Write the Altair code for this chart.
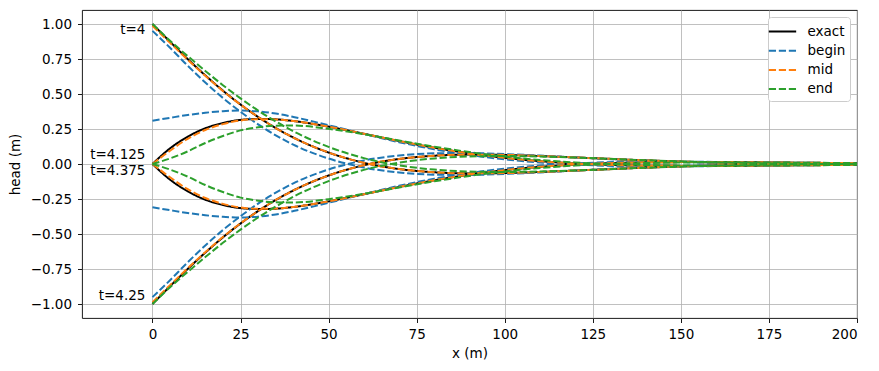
import altair as alt
import pandas as pd

# ---- data ----
x_m = [0, 5, 10, 15, 20, 25, 30, 35, 40, 50, 60, 70, 80, 90, 100, 110, 120, 140, 160, 180, 200]

times = ["4", "4.125", "4.25", "4.375"]
methods = ["exact", "begin", "mid", "end"]

exact_t4000 = [1.000, 0.873, 0.750, 0.633, 0.524, 0.425, 0.336, 0.257, 0.189, 0.082, 0.009, -0.036, -0.059, -0.067, -0.065, -0.057, -0.047, -0.026, -0.010, -0.001, 0.002]
exact_t4125 = [0.000, 0.112, 0.195, 0.255, 0.293, 0.315, 0.322, 0.319, 0.307, 0.267, 0.216, 0.164, 0.116, 0.076, 0.044, 0.020, 0.004, -0.012, -0.014, -0.010, -0.006]
exact_t4250 = [-1.000, -0.873, -0.750, -0.633, -0.524, -0.425, -0.336, -0.257, -0.189, -0.082, -0.009, 0.036, 0.059, 0.067, 0.065, 0.057, 0.047, 0.026, 0.010, 0.001, -0.002]
exact_t4375 = [0.000, -0.112, -0.195, -0.255, -0.293, -0.315, -0.322, -0.319, -0.307, -0.267, -0.216, -0.164, -0.116, -0.076, -0.044, -0.020, -0.004, 0.012, 0.014, 0.010, 0.006]

begin_t4000 = [0.951, 0.830, 0.702, 0.582, 0.472, 0.373, 0.283, 0.205, 0.138, 0.039, -0.025, -0.061, -0.076, -0.078, -0.071, -0.060, -0.047, -0.023, -0.008, 0.000, 0.003]
begin_t4125 = [0.309, 0.330, 0.350, 0.366, 0.377, 0.382, 0.376, 0.360, 0.336, 0.277, 0.215, 0.156, 0.105, 0.064, 0.033, 0.011, -0.004, -0.016, -0.015, -0.010, -0.005]
begin_t4250 = [-0.951, -0.830, -0.702, -0.582, -0.472, -0.373, -0.283, -0.205, -0.138, -0.039, 0.025, 0.061, 0.076, 0.078, 0.071, 0.060, 0.047, 0.023, 0.008, 0.000, -0.003]
begin_t4375 = [-0.309, -0.330, -0.350, -0.366, -0.377, -0.382, -0.376, -0.360, -0.336, -0.277, -0.215, -0.156, -0.105, -0.064, -0.033, -0.011, 0.004, 0.016, 0.015, 0.010, 0.005]

mid_t4000 = [0.988, 0.865, 0.745, 0.630, 0.522, 0.424, 0.336, 0.257, 0.189, 0.082, 0.009, -0.036, -0.059, -0.067, -0.065, -0.057, -0.047, -0.026, -0.010, -0.001, 0.002]
mid_t4125 = [0.000, 0.095, 0.180, 0.243, 0.285, 0.311, 0.320, 0.318, 0.307, 0.267, 0.216, 0.164, 0.116, 0.076, 0.044, 0.020, 0.004, -0.012, -0.014, -0.010, -0.006]
mid_t4250 = [-0.988, -0.865, -0.745, -0.630, -0.522, -0.424, -0.336, -0.257, -0.189, -0.082, -0.009, 0.036, 0.059, 0.067, 0.065, 0.057, 0.047, 0.026, 0.010, 0.001, -0.002]
mid_t4375 = [0.000, -0.095, -0.180, -0.243, -0.285, -0.311, -0.320, -0.318, -0.307, -0.267, -0.216, -0.164, -0.116, -0.076, -0.044, -0.020, -0.004, 0.012, 0.014, 0.010, 0.006]

end_t4000 = [1.000, 0.880, 0.771, 0.665, 0.563, 0.469, 0.382, 0.304, 0.234, 0.122, 0.042, -0.010, -0.040, -0.054, -0.057, -0.053, -0.046, -0.027, -0.012, -0.003, 0.001]
end_t4125 = [0.000, 0.040, 0.090, 0.150, 0.200, 0.240, 0.262, 0.274, 0.275, 0.251, 0.213, 0.168, 0.124, 0.085, 0.053, 0.029, 0.011, -0.007, -0.012, -0.010, -0.006]
end_t4250 = [-1.000, -0.880, -0.771, -0.665, -0.563, -0.469, -0.382, -0.304, -0.234, -0.122, -0.042, 0.010, 0.040, 0.054, 0.057, 0.053, 0.046, 0.027, 0.012, 0.003, -0.001]
end_t4375 = [0.000, -0.040, -0.090, -0.150, -0.200, -0.240, -0.262, -0.274, -0.275, -0.251, -0.213, -0.168, -0.124, -0.085, -0.053, -0.029, -0.011, 0.007, 0.012, 0.010, 0.006]

series = {
    "exact": [exact_t4000, exact_t4125, exact_t4250, exact_t4375],
    "begin": [begin_t4000, begin_t4125, begin_t4250, begin_t4375],
    "mid": [mid_t4000, mid_t4125, mid_t4250, mid_t4375],
    "end": [end_t4000, end_t4125, end_t4250, end_t4375],
}

label_texts = ["t=4", "t=4.125", "t=4.25", "t=4.375"]
label_x = [-2, -2, -2, -2]
label_y = [0.957, 0.064, -0.946, -0.05]

x_ticks = [0, 25, 50, 75, 100, 125, 150, 175, 200]
y_ticks = [-1, -0.75, -0.5, -0.25, 0, 0.25, 0.5, 0.75, 1]

colors = ["black", "#1f77b4", "#ff7f0e", "#2ca02c"]
dashes = [[1, 0], [7.2, 2.8], [7.2, 2.8], [7.2, 2.8]]

rows = []
for m in methods:
    for t, vals in zip(times, series[m]):
        for xv, hv in zip(x_m, vals):
            rows.append({"method": m, "t": t, "x": xv, "h": hv})
df = pd.DataFrame(rows)

labels_df = pd.DataFrame({"label": label_texts, "x": label_x, "y": label_y})

FONT = "DejaVu Sans"
FS = 13.5

xscale = alt.Scale(domain=[-20, 200], nice=False, zero=False)
yscale = alt.Scale(domain=[-1.1, 1.1], nice=False, zero=False)
xaxis = alt.Axis(title="x (m)", values=x_ticks)
yaxis = alt.Axis(title="head (m)", format=".2f", values=y_ticks)

legend = alt.Legend(
    title=None,
    orient="top-right",
    offset=7,
    fillColor="white",
    strokeColor="#cccccc",
    cornerRadius=3,
    padding=4.5,
    symbolType="M-1.52,0H1.52",
    symbolSize=324,
    symbolStrokeWidth=2,
    labelFontSize=FS,
    labelFont=FONT,
    labelColor="black",
    labelOffset=15,
    rowPadding=2.2,
    labelBaseline="middle",
)

layers = []
for m in methods:
    layers.append(
        alt.Chart(df[df["method"] == m])
        .mark_line(strokeWidth=2, interpolate="monotone", clip=True)
        .encode(
            x=alt.X("x:Q", scale=xscale, axis=xaxis),
            y=alt.Y("h:Q", scale=yscale, axis=yaxis),
            color=alt.Color("method:N", scale=alt.Scale(domain=methods, range=colors), legend=legend),
            strokeDash=alt.StrokeDash("method:N", scale=alt.Scale(domain=methods, range=dashes), legend=legend),
            detail="t:N",
        )
    )

texts = alt.Chart(labels_df).mark_text(
    align="right", baseline="middle", font=FONT, fontSize=FS, color="black"
).encode(
    x=alt.X("x:Q", scale=xscale, axis=xaxis),
    y=alt.Y("y:Q", scale=yscale, axis=yaxis),
    text="label:N",
)

chart = alt.layer(*layers, texts).properties(
    width=775,
    height=308,
    background="white",
    autosize=alt.AutoSizeParams(type="none"),
    padding={"left": 74, "top": 2, "right": 10, "bottom": 45},
).configure_view(
    stroke="black", strokeWidth=0.9
).configure_axis(
    labelFont=FONT, labelFontSize=FS, labelColor="black",
    titleFont=FONT, titleFontSize=FS, titleColor="black", titleFontWeight="normal",
    domain=False, labelOverlap=False,
    tickColor="black", tickSize=4.5, tickWidth=0.9,
    grid=True, gridColor="#b0b0b0", gridWidth=0.8,
).configure_axisX(
    labelPadding=5, titleY=35, titleBaseline="middle",
).configure_axisY(
    labelPadding=6, titleX=-67, titleY=154, titleBaseline="middle", titleAngle=-90,
)

chart.save("out.html", embed_options={"renderer": "svg", "actions": False})
